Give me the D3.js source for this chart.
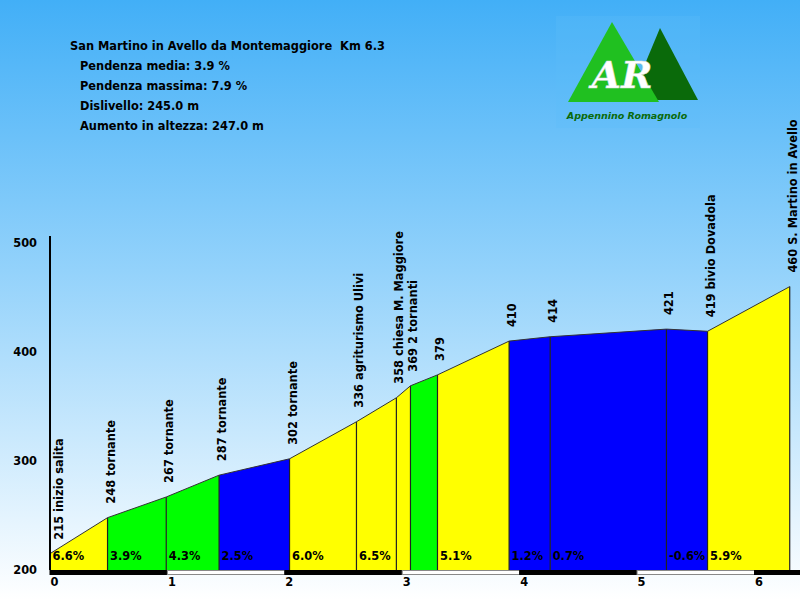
<!DOCTYPE html>
<html><head><meta charset="utf-8">
<script src="https://cdn.jsdelivr.net/npm/d3@7"></script>
<style>body{margin:0;padding:0;overflow:hidden}svg{display:block}</style>
</head><body>
<script>
// Data
const km = [0, 0.49, 0.99, 1.44, 2.04, 2.61, 2.95, 3.07, 3.30, 3.91, 4.26, 5.25, 5.60, 6.30];
const quota = [215, 248, 267, 287, 302, 336, 358, 369, 379, 410, 414, 421, 419, 460];
const pointLabels = ["215 inizio salita", "248 tornante", "267 tornante", "287 tornante", "302 tornante",
  "336 agriturismo Ulivi", "358 chiesa M. Maggiore", "369 2 tornanti", "379", "410", "414", "421",
  "419 bivio Dovadola", "460 S. Martino in Avello"];
const segColors = ["yellow", "green", "green", "blue", "yellow", "yellow", "yellow", "green", "yellow", "blue", "blue", "blue", "yellow"];
const segPct = ["6.6%", "3.9%", "4.3%", "2.5%", "6.0%", "6.5%", "", "", "5.1%", "1.2%", "0.7%", "-0.6%", "5.9%"];
const yTicks = [200, 300, 400, 500];
const xTicks = [0, 1, 2, 3, 4, 5, 6];
const infoTitle = "San Martino in Avello da Montemaggiore  Km 6.3";
const infoLines = ["Pendenza media: 3.9 %", "Pendenza massima: 7.9 %", "Dislivello: 245.0 m", "Aumento in altezza: 247.0 m"];

const W = 800, H = 600;
const colorMap = {yellow: "#ffff00", green: "#00ff00", blue: "#0000ff"};
const font = "'DejaVu Sans', Verdana, sans-serif";
const fs = 11.4;

const svg = d3.select("body").append("svg").attr("width", W).attr("height", H);
const defs = svg.append("defs");
const grad = defs.append("linearGradient").attr("id", "sky").attr("x1", 0).attr("y1", 0).attr("x2", 0).attr("y2", 1);
grad.append("stop").attr("offset", "0%").attr("stop-color", "#42aff7");
grad.append("stop").attr("offset", "45%").attr("stop-color", "#93d2fb");
grad.append("stop").attr("offset", "100%").attr("stop-color", "#ffffff");
svg.append("rect").attr("width", W).attr("height", H).attr("fill", "url(#sky)");

const x = d3.scaleLinear().domain([0, 6]).range([50, 754.5]);
const y = d3.scaleLinear().domain([200, 500]).range([570, 243]);

// segments
const pts = km.map((k, i) => ({k, q: quota[i]}));
const segs = d3.range(km.length - 1).map(i => ({a: pts[i], b: pts[i + 1], c: segColors[i], p: segPct[i]}));
svg.append("g").selectAll("path").data(segs).join("path")
  .attr("d", d => `M${x(d.a.k)},${y(200)}L${x(d.a.k)},${y(d.a.q)}L${x(d.b.k)},${y(d.b.q)}L${x(d.b.k)},${y(200)}Z`)
  .attr("fill", d => colorMap[d.c]).attr("stroke", "none");

// separators
svg.append("g").selectAll("line").data(pts.slice(1)).join("line")
  .attr("x1", d => x(d.k)).attr("x2", d => x(d.k)).attr("y1", d => y(d.q)).attr("y2", y(200))
  .attr("stroke", "#222").attr("stroke-width", 1.2);

// profile line
svg.append("path").datum(pts)
  .attr("d", d3.line().x(d => x(d.k)).y(d => y(d.q)))
  .attr("fill", "none").attr("stroke", "#333").attr("stroke-width", 1);

// pct labels
svg.append("g").selectAll("text").data(segs).join("text")
  .attr("x", d => x(d.a.k) + 2.5).attr("y", 560)
  .attr("font-family", font).attr("font-weight", "bold").attr("font-size", fs)
  .attr("fill", "#000").text(d => d.p);

// point labels
svg.append("g").selectAll("text").data(pts).join("text")
  .attr("transform", d => `translate(${Math.max(x(d.k) + 7, 62.5)},${y(d.q) - 14}) rotate(-90)`)
  .attr("font-family", font).attr("font-weight", "bold").attr("font-size", fs)
  .attr("fill", "#000").text((d, i) => pointLabels[i]);

// y axis line
svg.append("line").attr("x1", 50).attr("x2", 50).attr("y1", 236).attr("y2", 570)
  .attr("stroke", "#000").attr("stroke-width", 2);
svg.append("g").selectAll("text").data(yTicks).join("text")
  .attr("x", 37).attr("y", d => y(d) + 4).attr("text-anchor", "end")
  .attr("font-family", font).attr("font-weight", "bold").attr("font-size", fs).text(d => d);

// x axis bar
const bars = d3.range(7).map(i => ({s: i, e: i + 1}));
svg.append("g").selectAll("rect").data(bars).join("rect")
  .attr("x", d => x(d.s)).attr("y", 570.5).attr("height", 4)
  .attr("width", d => Math.min(x(d.e), W) - x(d.s))
  .attr("fill", (d, i) => i % 2 === 0 ? "#000" : "#fff")
  .attr("stroke", (d, i) => i % 2 === 0 ? "#000" : "#888").attr("stroke-width", 1);
svg.append("g").selectAll("text").data(xTicks).join("text")
  .attr("x", d => x(d) + 0.5).attr("y", 586)
  .attr("font-family", font).attr("font-weight", "bold").attr("font-size", fs).text(d => d);

// info text
svg.append("text").attr("x", 70).attr("y", 50).attr("font-family", font).attr("font-weight", "bold")
  .attr("font-size", fs).style("white-space", "pre").text(infoTitle);
svg.append("g").selectAll("text").data(infoLines).join("text")
  .attr("x", 80).attr("y", (d, i) => 70 + i * 20)
  .attr("font-family", font).attr("font-weight", "bold").attr("font-size", fs).text(d => d);

// logo
const logo = svg.append("g");
logo.append("rect").attr("x", 556).attr("y", 16).attr("width", 144).attr("height", 112).attr("fill", "#5cbcf8").attr("opacity", 0.3);
logo.append("path").attr("d", "M660,28L698,100L630,100Z").attr("fill", "#0a6a0a");
logo.append("path").attr("d", "M612,22L659,102L568,102Z").attr("fill", "#20c020");
logo.append("text").attr("x", 622).attr("y", 88).attr("text-anchor", "middle")
  .attr("font-family", "'DejaVu Serif', serif").attr("font-style", "italic").attr("font-weight", "bold")
  .attr("font-size", 38).attr("fill", "#fff").attr("stroke", "#ddd").attr("stroke-width", 0.5).text("AR");
logo.append("text").attr("x", 627).attr("y", 119).attr("text-anchor", "middle")
  .attr("font-family", "'DejaVu Sans', sans-serif").attr("font-style", "italic").attr("font-weight", "bold")
  .attr("font-size", 9.5).attr("fill", "#0a6a0a").text("Appennino Romagnolo");
</script>
</body></html>
